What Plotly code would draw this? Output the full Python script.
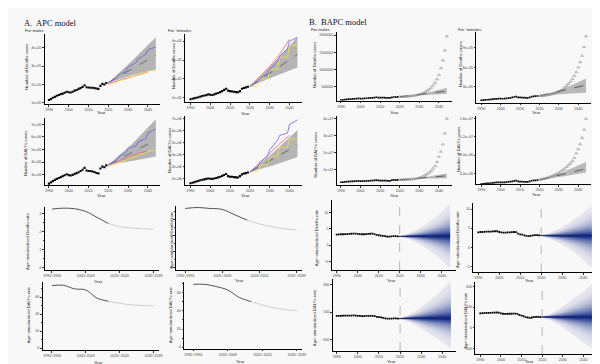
import plotly.graph_objects as go

# ---------------- data ----------------
obs_years = list(range(1990, 2020))
proj_years = list(range(2020, 2045))
x_tick_years = [1990, 2000, 2010, 2020, 2030, 2040]

# observed counts (used in APC and BAPC count panels)
deaths_male = [1.15e5, 1.20e5, 1.27e5, 1.32e5, 1.38e5, 1.42e5, 1.47e5, 1.50e5, 1.55e5, 1.60e5,
               1.57e5, 1.56e5, 1.60e5, 1.66e5, 1.70e5, 1.76e5, 1.80e5, 1.87e5, 1.96e5, 1.85e5,
               1.83e5, 1.82e5, 1.82e5, 1.80e5, 1.78e5, 1.76e5, 1.92e5, 2.03e5, 2.00e5, 2.08e5]
deaths_female = [0.92e5, 0.95e5, 0.98e5, 1.00e5, 1.03e5, 1.06e5, 1.09e5, 1.12e5, 1.14e5, 1.18e5,
                 1.16e5, 1.15e5, 1.18e5, 1.22e5, 1.25e5, 1.30e5, 1.35e5, 1.42e5, 1.48e5, 1.38e5,
                 1.35e5, 1.33e5, 1.32e5, 1.30e5, 1.29e5, 1.35e5, 1.48e5, 1.52e5, 1.55e5, 1.58e5]
dalys_male = [2.30e6, 2.40e6, 2.50e6, 2.60e6, 2.68e6, 2.75e6, 2.82e6, 2.90e6, 2.97e6, 3.05e6,
              2.98e6, 2.95e6, 3.00e6, 3.08e6, 3.14e6, 3.20e6, 3.30e6, 3.40e6, 3.55e6, 3.35e6,
              3.30e6, 3.30e6, 3.27e6, 3.22e6, 3.15e6, 3.12e6, 3.50e6, 3.65e6, 3.60e6, 3.75e6]
dalys_female = [1.60e6, 1.65e6, 1.70e6, 1.75e6, 1.80e6, 1.85e6, 1.90e6, 1.93e6, 1.97e6, 2.00e6,
                1.98e6, 1.97e6, 2.00e6, 2.05e6, 2.10e6, 2.15e6, 2.22e6, 2.30e6, 2.38e6, 2.20e6,
                2.15e6, 2.15e6, 2.12e6, 2.10e6, 2.08e6, 2.20e6, 2.35e6, 2.42e6, 2.45e6, 2.50e6]

# APC projections
band_years = [2020, 2032, 2044]
mean_years = [2020, 2044]
step_years = [2020, 2024, 2025, 2029, 2030, 2034, 2035, 2039, 2040, 2044]
red_years = [2020, 2025, 2030, 2035, 2040]

apc_dm_upper = [2.10e5, 3.30e5, 4.58e5]
apc_dm_lower = [2.10e5, 2.50e5, 2.82e5]
apc_dm_mean = [2.10e5, 3.60e5]
apc_dm_blue = [2.10e5, 2.35e5, 2.50e5, 2.75e5, 2.95e5, 3.20e5, 3.40e5, 3.65e5, 3.90e5, 4.05e5]
apc_dm_red = [2.05e5, 2.20e5, 2.35e5, 2.52e5, 2.68e5]
apc_dm_yellow = [2.00e5, 2.08e5, 2.20e5, 2.28e5, 2.40e5, 2.48e5, 2.58e5, 2.65e5, 2.75e5, 2.75e5]

apc_df_upper = [1.60e5, 2.85e5, 4.22e5]
apc_df_lower = [1.60e5, 2.12e5, 2.60e5]
apc_df_mean = [1.60e5, 3.29e5]
apc_df_blue = [1.60e5, 1.85e5, 2.00e5, 2.30e5, 2.50e5, 2.95e5, 3.20e5, 3.60e5, 4.00e5, 4.20e5]
apc_df_red = [1.60e5, 2.10e5, 2.65e5, 3.30e5, 4.10e5]
apc_df_yellow = [1.60e5, 1.60e5, 2.00e5, 2.00e5, 2.50e5, 2.50e5, 3.15e5, 3.15e5, 3.80e5, 3.80e5]

apc_ym_upper = [3.80e6, 5.45e6, 7.40e6]
apc_ym_lower = [3.80e6, 4.10e6, 4.45e6]
apc_ym_mean = [3.80e6, 5.76e6]
apc_ym_blue = [3.80e6, 4.10e6, 4.40e6, 4.80e6, 5.10e6, 5.30e6, 5.60e6, 5.90e6, 6.30e6, 6.65e6]
apc_ym_red = [3.75e6, 4.10e6, 4.40e6, 4.70e6, 4.90e6]
apc_ym_yellow = [3.70e6, 3.85e6, 4.00e6, 4.15e6, 4.30e6, 4.45e6, 4.60e6, 4.75e6, 4.90e6, 4.90e6]

apc_yf_upper = [2.55e6, 4.20e6, 6.05e6]
apc_yf_lower = [2.55e6, 3.10e6, 3.80e6]
apc_yf_mean = [2.55e6, 4.80e6]
apc_yf_blue = [2.55e6, 3.00e6, 3.30e6, 3.90e6, 4.40e6, 5.20e6, 5.60e6, 5.80e6, 6.50e6, 6.90e6]
apc_yf_red = [2.55e6, 3.30e6, 4.10e6, 4.90e6, 5.60e6]
apc_yf_yellow = [2.55e6, 2.60e6, 3.10e6, 3.15e6, 3.80e6, 3.85e6, 4.60e6, 4.60e6, 5.30e6, 5.30e6]

# BAPC count projections
bapc_dm_upper = [2.10e5, 3.00e5, 4.70e5]
bapc_dm_lower = [2.10e5, 2.50e5, 2.97e5]
bapc_dm_mean = [2.10e5, 3.75e5]
bapc_dm_tri = [2.10e5, 2.12e5, 2.14e5, 2.18e5, 2.22e5, 2.28e5, 2.34e5, 2.42e5, 2.52e5, 2.65e5,
               2.80e5, 2.98e5, 3.20e5, 3.50e5, 3.85e5, 4.25e5, 4.75e5, 5.40e5, 6.20e5, 7.20e5,
               8.50e5, 10.4e5, 12.7e5, 15.6e5, 19.7e5]
bapc_df_upper = [1.60e5, 2.60e5, 4.28e5]
bapc_df_lower = [1.60e5, 1.90e5, 2.08e5]
bapc_df_mean = [1.60e5, 3.26e5]
bapc_df_tri = [1.60e5, 1.61e5, 1.63e5, 1.66e5, 1.70e5, 1.76e5, 1.83e5, 1.92e5, 2.02e5, 2.15e5,
               2.30e5, 2.45e5, 2.65e5, 2.90e5, 3.15e5, 3.45e5, 3.80e5, 4.20e5, 4.70e5, 5.30e5,
               6.00e5, 6.80e5, 7.80e5, 9.15e5, 10.8e5]
bapc_ym_upper = [3.80e6, 5.30e6, 7.50e6]
bapc_ym_lower = [3.80e6, 4.30e6, 4.70e6]
bapc_ym_mean = [3.80e6, 6.10e6]
bapc_ym_tri = [3.76e6, 3.78e6, 3.80e6, 3.85e6, 3.90e6, 4.00e6, 4.10e6, 4.20e6, 4.40e6, 4.60e6,
               4.90e6, 5.30e6, 5.80e6, 6.50e6, 7.20e6, 8.00e6, 9.00e6, 10.4e6, 12.0e6, 14.4e6,
               17.5e6, 20.5e6, 24.8e6, 31.3e6, 40.0e6]
bapc_yf_upper = [2.50e6, 4.20e6, 6.50e6]
bapc_yf_lower = [2.50e6, 3.30e6, 4.15e6]
bapc_yf_mean = [2.50e6, 5.00e6]
bapc_yf_tri = [2.60e6, 2.70e6, 2.80e6, 2.90e6, 3.00e6, 3.15e6, 3.30e6, 3.50e6, 3.70e6, 3.90e6,
               4.10e6, 4.40e6, 4.70e6, 5.00e6, 5.40e6, 5.80e6, 6.20e6, 6.70e6, 7.40e6, 8.40e6,
               9.30e6, 10.4e6, 11.8e6, 13.6e6, 16.0e6]

# APC age-standardized rates by period
period_labels = ["1990\u22121994", "1995\u22121999", "2000\u22122004", "2005\u22122009", "2010\u22122014",
                 "2015\u22122019", "2020\u22122024", "2025\u22122029", "2030\u22122034", "2035\u22122039"]
period_mid = [1992.5, 1997.5, 2002.5, 2007.5, 2012.5, 2017.5, 2022.5, 2027.5, 2032.5, 2037.5]
n_observed_periods = 6
asr_death_male = [3.24, 3.29, 3.26, 3.11, 2.78, 2.45, 2.27, 2.20, 2.16, 2.14]
asr_death_female = [3.71, 3.77, 3.71, 3.65, 3.31, 2.98, 2.73, 2.56, 2.43, 2.37]
asr_daly_male = [73.7, 74.1, 69.8, 68.6, 58.8, 55.3, 52.9, 51.0, 50.2, 49.8]
asr_daly_female = [69.5, 69.5, 67.0, 63.2, 55.0, 50.4, 46.7, 43.4, 41.5, 40.4]

# BAPC age-standardized rates
bapc_rd_male = [3.20, 3.25, 3.30, 3.30, 3.35, 3.35, 3.40, 3.45, 3.50, 3.50, 3.40, 3.35, 3.30, 3.30, 3.35,
                3.40, 3.45, 3.50, 3.35, 3.10, 3.00, 2.90, 2.80, 2.70, 2.60, 2.60, 2.65, 2.70, 2.70, 2.65]
bapc_rd_female = [3.90, 4.00, 4.00, 4.05, 4.10, 4.10, 4.10, 4.15, 4.20, 4.20, 4.00, 3.90, 3.85, 3.85, 3.90,
                  3.90, 3.95, 4.00, 3.95, 3.60, 3.40, 3.30, 3.10, 3.00, 2.90, 3.00, 3.10, 3.20, 3.20, 3.10]
bapc_ry_male = [72, 73, 73, 74, 74, 75, 75, 75, 76, 75, 73, 72, 71, 71, 72,
                72, 73, 73, 71, 66, 63, 61, 58, 55, 52, 52, 53, 54, 54, 53]
bapc_ry_female = [70, 71, 71, 72, 72, 72, 73, 73, 74, 73, 70, 68, 67, 67, 68,
                  68, 69, 69, 67, 62, 59, 56, 52, 50, 48, 50, 52, 53, 53, 52]
fan_years = [2019, 2024, 2029, 2034, 2039, 2044]
fan_rd_male_mid = [2.65, 2.70, 2.70, 2.70, 2.70, 2.70]
fan_rd_male_hi = [2.65, 3.50, 5.00, 7.00, 9.50, 12.7]
fan_rd_male_lo = [2.65, 1.90, 0.40, -1.60, -4.10, -7.20]
fan_rd_female_mid = [3.10, 3.00, 3.00, 3.00, 3.00, 3.00]
fan_rd_female_hi = [3.10, 3.80, 5.00, 6.60, 8.60, 10.9]
fan_rd_female_lo = [3.10, 2.20, 1.00, -0.60, -2.70, -5.40]
fan_ry_male_mid = [53, 55, 55, 55, 55, 55]
fan_ry_male_hi = [53, 80, 125, 185, 250, 330]
fan_ry_male_lo = [53, 30, -10, -60, -110, -165]
fan_ry_female_mid = [52, 52, 52, 52, 52, 52]
fan_ry_female_hi = [52, 68, 95, 130, 168, 211]
fan_ry_female_lo = [52, 37, 10, -25, -62, -100]

# ---------------- figure ----------------
W, H = 600, 364
BG = "#f8f8f8"
FONT = "Arial"
fig = go.Figure()
axes = {}


def fx(px):
    return px / W


def fy(py):
    return 1 - py / H


def lin(p1, v1, p2, v2, p):
    return v1 + (p - p1) * (v2 - v1) / (p2 - p1)


def make_axes(i, xl, xr, xa, xb, yt, yb, ya, yb_, xt, xtt, yv, ytt, yminor=None):
    base = dict(showline=True, linecolor="black", linewidth=0.7, ticks="outside", ticklen=1.8,
                tickwidth=0.5, tickcolor="#333", showgrid=False, zeroline=False, fixedrange=True,
                tickfont=dict(size=3.6, color="#444", family=FONT))
    xd = dict(base, domain=[fx(xl), fx(xr)],
              range=[lin(xa[0], xa[1], xb[0], xb[1], xl), lin(xa[0], xa[1], xb[0], xb[1], xr)],
              anchor=f"y{i}", tickmode="array", tickvals=xt, ticktext=xtt)
    yd = dict(base, domain=[fy(yb), fy(yt)],
              range=[lin(ya[0], ya[1], yb_[0], yb_[1], yb), lin(ya[0], ya[1], yb_[0], yb_[1], yt)],
              anchor=f"x{i}", tickmode="array", tickvals=yv, ticktext=ytt)
    if yminor:
        yd["minor"] = dict(ticks="outside", ticklen=1.2, tickwidth=0.4, tickcolor="#333", dtick=yminor)
    axes["xaxis" if i == 1 else f"xaxis{i}"] = xd
    axes["yaxis" if i == 1 else f"yaxis{i}"] = yd


def ref(i):
    return dict(xaxis=f"x{i}", yaxis=f"y{i}")


def band(i, xs, up, lo, color):
    fig.add_trace(go.Scatter(x=xs + xs[::-1], y=up + lo[::-1], fill="toself", fillcolor=color,
                             line=dict(width=0), mode="lines", hoverinfo="skip", **ref(i)))


def line(i, xs, ys, color, width=0.9, dash="solid"):
    fig.add_trace(go.Scatter(x=xs, y=ys, mode="lines", line=dict(color=color, width=width, dash=dash),
                             hoverinfo="skip", **ref(i)))


def dots(i, xs, ys, size=2.0):
    fig.add_trace(go.Scatter(x=xs, y=ys, mode="markers",
                             marker=dict(symbol="square", size=size, color="black", line=dict(width=0)),
                             hoverinfo="skip", **ref(i)))


yr_txt = [str(v) for v in x_tick_years]

# APC count panels
apc_panels = [
    (1, (35, 152, (39.3, 1990), (139.3, 2040), 26.3, 96.5, (95, 1e5), (40, 4e5)),
     [1e5, 2e5, 3e5, 4e5], ["1e+05", "2e+05", "3e+05", "4e+05"], deaths_male,
     apc_dm_upper, apc_dm_lower, apc_dm_mean, apc_dm_blue, apc_dm_red, apc_dm_yellow),
    (2, (177, 295, (182.3, 1990), (282.3, 2040), 26.5, 94.5, (90, 1e5), (33.3, 4e5)),
     [1e5, 2e5, 3e5, 4e5], ["1e+05", "2e+05", "3e+05", "4e+05"], deaths_female,
     apc_df_upper, apc_df_lower, apc_df_mean, apc_df_blue, apc_df_red, apc_df_yellow),
    (5, (35, 152, (39.3, 1990), (139.3, 2040), 110, 177.7, (167.3, 3e6), (116.7, 7e6)),
     [3e6, 4e6, 5e6, 6e6, 7e6], ["3e+06", "4e+06", "5e+06", "6e+06", "7e+06"], dalys_male,
     apc_ym_upper, apc_ym_lower, apc_ym_mean, apc_ym_blue, apc_ym_red, apc_ym_yellow),
    (6, (177, 295, (182.3, 1990), (282.3, 2040), 108, 177.7, (171, 2e6), (111, 7e6)),
     [2e6, 3e6, 4e6, 5e6, 6e6, 7e6], ["2e+06", "3e+06", "4e+06", "5e+06", "6e+06", "7e+06"], dalys_female,
     apc_yf_upper, apc_yf_lower, apc_yf_mean, apc_yf_blue, apc_yf_red, apc_yf_yellow),
]
for i, g, yv, yt, obs, up, lo, mean, blue, red, yellow in apc_panels:
    make_axes(i, *g, x_tick_years, yr_txt, yv, yt)
    band(i, band_years, up, lo, "#b4b4b4")
    line(i, mean_years, mean, "#555555", 0.8, "dash")
    line(i, red_years, red, "#f0606c", 0.8)
    line(i, step_years, yellow, "#f4e04a", 0.8)
    line(i, step_years, blue, "#6262ee", 0.8)
    dots(i, obs_years, obs, 2.1)

# BAPC count panels
bapc_panels = [
    (3, (330, 446, (334.3, 1990), (433.3, 2040), 24, 93, (79, 5e5), (27.3, 2e6)),
     [5e5, 1e6, 1.5e6, 2e6], ["500000", "1000000", "1500000", "2000000"], deaths_male,
     bapc_dm_upper, bapc_dm_lower, bapc_dm_mean, bapc_dm_tri),
    (4, (471, 587, (476, 1990), (574, 2040), 24, 95, (79, 3e5), (40, 9e5)),
     [3e5, 6e5, 9e5], ["3e+05", "6e+05", "9e+05"], deaths_female,
     bapc_df_upper, bapc_df_lower, bapc_df_mean, bapc_df_tri),
    (7, (330, 446, (334.3, 1990), (433.3, 2040), 107.8, 177.7, (161.7, 1e7), (111, 4e7)),
     [1e7, 2e7, 3e7, 4e7], ["1e+07", "2e+07", "3e+07", "4e+07"], dalys_male,
     bapc_ym_upper, bapc_ym_lower, bapc_ym_mean, bapc_ym_tri),
    (8, (471, 587, (476, 1990), (574, 2040), 107.8, 176.7, (165.7, 4e6), (111, 1.6e7)),
     [4e6, 8e6, 1.2e7, 1.6e7], ["4.0e+06", "8.0e+06", "1.2e+07", "1.6e+07"], dalys_female,
     bapc_yf_upper, bapc_yf_lower, bapc_yf_mean, bapc_yf_tri),
]
for i, g, yv, yt, obs, up, lo, mean, tri in bapc_panels:
    make_axes(i, *g, x_tick_years, yr_txt, yv, yt)
    band(i, band_years, up, lo, "#b9b9b9")
    line(i, mean_years, mean, "#444444", 0.8, "dash")
    dots(i, obs_years, obs, 1.7)
    fig.add_trace(go.Scatter(x=proj_years, y=tri, mode="markers",
                             marker=dict(symbol="triangle-up-open", size=2.7, color="#7a7a7a",
                                         line=dict(width=0.5)), hoverinfo="skip", **ref(i)))

# APC rate panels
per_ticks = [period_mid[k] for k in (0, 3, 6, 9)]
per_txt = [period_labels[k] for k in (0, 3, 6, 9)]
rate_panels = [
    (9, (35, 150, (36.7, 1990), (148.3, 2039), 199.3, 262.7, (260.7, 0), (206, 3)),
     [0, 1, 2, 3], ["0", "1", "2", "3"], asr_death_male, 0.5),
    (10, (167.3, 295, (170.7, 1990), (293.3, 2039), 198.3, 262.7, (260, 0), (212.3, 3)),
     [0, 1, 2, 3], ["0", "1", "2", "3"], asr_death_female, 0.5),
    (13, (33, 150, (36.7, 1990), (148.3, 2039), 275, 343.3, (341, 0), (290, 60)),
     [0, 20, 40, 60], ["0", "20", "40", "60"], asr_daly_male, 10),
    (14, (176, 295, (179.3, 1990), (293.3, 2039), 275, 341.7, (340, 0), (285.7, 60)),
     [0, 20, 40, 60], ["0", "20", "40", "60"], asr_daly_female, 10),
]
for i, g, yv, yt, vals, mn in rate_panels:
    make_axes(i, *g, per_ticks, per_txt, yv, yt, yminor=mn)
    k = n_observed_periods
    fig.add_trace(go.Scatter(x=period_mid[k - 1:], y=vals[k - 1:], mode="lines",
                             line=dict(color="#c4c4c4", width=0.8, shape="spline"),
                             hoverinfo="skip", **ref(i)))
    fig.add_trace(go.Scatter(x=period_mid[:k], y=vals[:k], mode="lines",
                             line=dict(color="#2a2a2a", width=0.8, shape="spline"),
                             hoverinfo="skip", **ref(i)))

# BAPC rate fan panels
levels = [1.0, 0.88, 0.77, 0.67, 0.58, 0.49, 0.41, 0.33, 0.26, 0.19, 0.13, 0.07]
light = (228, 229, 237)
dark = (28, 50, 140)
fan_panels = [
    (11, (325, 450, (330, 1990), (436, 2040), 193, 262.7, (254, -5), (205, 10)),
     [-5, 0, 5, 10], ["\u22125", "0", "5", "10"], bapc_rd_male, fan_rd_male_mid, fan_rd_male_hi, fan_rd_male_lo),
    (12, (468, 593, (473, 1990), (579, 2040), 196, 265, (259, -5), (201.7, 10)),
     [-5, 0, 5, 10], ["\u22125", "0", "5", "10"], bapc_rd_female, fan_rd_female_mid, fan_rd_female_hi, fan_rd_female_lo),
    (15, (326, 450, (330, 1990), (436.7, 2040), 272, 344, (332.3, -100), (305, 100)),
     [-100, 100, 300], ["\u2212100", "100", "300"], bapc_ry_male, fan_ry_male_mid, fan_ry_male_hi, fan_ry_male_lo),
    (16, (470, 593, (475, 1990), (579.3, 2040), 275, 347, (341.7, -100), (279, 200)),
     [-100, 0, 100, 200], ["\u2212100", "0", "100", "200"], bapc_ry_female, fan_ry_female_mid, fan_ry_female_hi, fan_ry_female_lo),
]
shapes = []
for i, g, yv, yt, obs, mid, hi, lo in fan_panels:
    make_axes(i, *g, x_tick_years, yr_txt, yv, yt)
    n = len(levels)
    for j, f in enumerate(levels):
        t = (j / (n - 1)) ** 1.9
        c = tuple(int(round(light[q] + (dark[q] - light[q]) * t)) for q in range(3))
        up = [m + f * (h - m) for m, h in zip(mid, hi)]
        dn = [m - f * (m - l) for m, l in zip(mid, lo)]
        band(i, fan_years, up, dn, "rgb(%d,%d,%d)" % c)
    line(i, fan_years, mid, "#15205a", 0.9)
    dots(i, obs_years, obs, 1.8)
    shapes.append(dict(type="line", xref=f"x{i}", yref=f"y{i} domain", x0=2020, x1=2020, y0=0, y1=1,
                       line=dict(color="#888", width=0.6, dash="dash")))

# ---------------- annotations ----------------
ann = []


def text(x, y, s, size=4.5, angle=0, family=FONT, color="#222", xanchor="center"):
    ann.append(dict(x=fx(x), y=fy(y), xref="paper", yref="paper", text=s, showarrow=False,
                    font=dict(size=size, family=family, color=color), textangle=angle,
                    xanchor=xanchor, yanchor="middle"))


text(12, 15, "A.  APC model", 8.5, family="Liberation Serif, Times New Roman, serif", color="#111", xanchor="left")
text(300, 14.3, "B.  BAPC model", 8.5, family="Liberation Serif, Times New Roman, serif", color="#111", xanchor="left")
text(13.3, 22.7, "For males", 4.2, xanchor="left")
text(158, 22.7, "For  females", 4.2, xanchor="left")
text(302, 21.7, "For males", 4.2, xanchor="left")
text(451, 21.7, "For  females", 4.2, xanchor="left")

ytitles = [
    (17, 59, "Number of Deaths cases"), (166, 58, "Number of Deaths cases"),
    (308.3, 57, "Number of Deaths cases"), (455, 56, "Number of Deaths cases"),
    (16, 145.8, "Number of DALYs cases"), (160.7, 142.5, "Number of DALYs cases"),
    (308.3, 146.7, "Number of DALYs cases"), (453.3, 141.7, "Number of DALYs cases"),
    (17.7, 234, "Age\u2212standardized Deaths rate"), (162.7, 233, "Age\u2212standardized Deaths rate"),
    (309, 230, "Age\u2212standardized Deaths rate"), (452.7, 232.5, "Age\u2212standardized Deaths rate"),
    (18.3, 308, "Age\u2212standardized DALYs rate"), (161.7, 308, "Age\u2212standardized DALYs rate"),
    (308.3, 310.8, "Age\u2212standardized DALYs rate"), (459.3, 313, "Age\u2212standardized DALYs rate"),
]
for x, y, s in ytitles:
    text(x, y, s, 4.2, angle=-90)

year_pos = [(92, 105), (238.3, 105.3), (388, 104.5), (532, 105),
            (92, 188), (238, 187.6), (388, 187.6), (532, 187.3),
            (89, 274), (232, 273.7), (385, 272.8), (525, 272.8),
            (89, 355.5), (233, 354.2), (385, 354.2), (525, 354.6)]
for x, y in year_pos:
    text(x, y, "Year", 4.1)

fig.update_layout(width=W, height=H, margin=dict(l=0, r=0, t=0, b=0), paper_bgcolor=BG,
                  plot_bgcolor=BG, showlegend=False, annotations=ann, shapes=shapes, **axes)
fig.write_html("out.html")
